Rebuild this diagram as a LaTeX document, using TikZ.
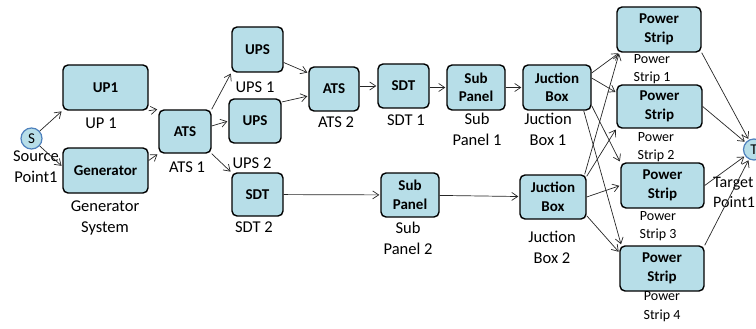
\documentclass[tikz,border=0pt]{standalone}
\usepackage{fontspec}
\setmainfont{Carlito}
\usetikzlibrary{arrows.meta}
\definecolor{boxfill}{HTML}{B7DEE8}
\definecolor{ringblue}{HTML}{4F81BD}
\begin{document}
\begin{tikzpicture}[x=1pt,y=-1pt,
  unit/.style={draw=black, line width=1.4pt, fill=boxfill, rounded corners=5pt,
    inner sep=0pt, align=center, font=\fontsize{15}{18.5}\selectfont\bfseries},
  endpt/.style={circle, draw=ringblue, line width=1.2pt, fill=boxfill,
    minimum size=21pt, inner sep=0pt, font=\fontsize{15}{18}\selectfont},
  caption/.style={align=center, inner sep=0pt, font=\fontsize{16.5}{21}\selectfont},
  smallcap/.style={align=center, inner sep=0pt, font=\fontsize{14}{18.5}\selectfont},
  link/.style={-{Straight Barb[length=6pt,width=8pt]}, line width=0.7pt,
    draw=black!85, shorten >=1pt}
]
\useasboundingbox (0,0) rectangle (756,329);

% end points
\node[endpt] (S) at (31.5,138.5) {S};
\node[endpt] (T) at (754,149.5) {T};

% equipment boxes
\node[unit, minimum width=85pt, minimum height=45pt] (up1)  at (105.5,87.5)  {UP1};
\node[unit, minimum width=85pt, minimum height=45pt] (gen)  at (105.5,170.5) {Generator};
\node[unit, minimum width=52pt, minimum height=43pt] (ats1) at (185,131.5)   {ATS};
\node[unit, minimum width=51pt, minimum height=45pt] (ups1) at (257.5,49.5)  {UPS};
\node[unit, minimum width=52pt, minimum height=44pt] (ups2) at (255,121)     {UPS};
\node[unit, minimum width=51pt, minimum height=43pt] (sdt2) at (257.5,194.5) {SDT};
\node[unit, minimum width=50pt, minimum height=44pt] (ats2) at (334,89)      {ATS};
\node[unit, minimum width=51pt, minimum height=44pt] (sdt1) at (403.5,86)    {SDT};
\node[unit, minimum width=58pt, minimum height=45pt] (sp1)  at (476,87.5)    {Sub\\Panel};
\node[unit, minimum width=58pt, minimum height=44pt] (sp2)  at (410,195)     {Sub\\Panel};
\node[unit, minimum width=68pt, minimum height=45pt] (jb1)  at (557,87.5)    {Juction\\Box};
\node[unit, minimum width=66pt, minimum height=44pt] (jb2)  at (553,197)     {Juction\\Box};
\node[unit, minimum width=84pt, minimum height=45pt] (ps1)  at (659,29.5)    {Power\\Strip};
\node[unit, minimum width=85pt, minimum height=43pt] (ps2)  at (659.5,106.5) {Power\\Strip};
\node[unit, minimum width=83pt, minimum height=45pt] (ps3)  at (662.5,185.5) {Power\\Strip};
\node[unit, minimum width=84pt, minimum height=45pt] (ps4)  at (662,268.5)   {Power\\Strip};

% captions
\node[caption] (cS)    at (36,167)     {Source\\Point1};
\node[caption] (cup1)  at (101,123)    {UP 1};
\node[caption] (cgen)  at (105,217.5)  {Generator\\System};
\node[caption] (cats1) at (187,167)    {ATS 1};
\node[caption] (cups1) at (255,87)     {UPS 1};
\node[caption] (cups2) at (252,163)    {UPS 2};
\node[caption] (cats2) at (336,122)    {ATS 2};
\node[caption] (csdt1) at (406,120)    {SDT 1};
\node[caption] (csdt2) at (254,227)    {SDT 2};
\node[caption] (csp1)  at (477,129.5)  {Sub\\Panel 1};
\node[caption] (cjb1)  at (548,129.5)  {Juction\\Box 1};
\node[caption] (csp2)  at (408,238)    {Sub\\Panel 2};
\node[caption] (cjb2)  at (552,247)    {Juction\\Box 2};
\node[smallcap] (cps1) at (652,69)     {Power\\Strip 1};
\node[smallcap] (cps2) at (656,147)    {Power\\Strip 2};
\node[smallcap] (cps3) at (658,226)    {Power\\Strip 3};
\node[smallcap] (cps4) at (662,306.5)  {Power\\Strip 4};
\node[caption, align=left, anchor=west, font=\fontsize{16}{20}\selectfont]
  (cT) at (713,192) {Target\\Point1};

% supply side
\draw[link] (S) -- (up1.south west);
\draw[link] (S) -- ([yshift=4pt]gen.west);
\draw[link] (up1.south east) -- (ats1.north west);
\draw[link] ([yshift=10pt]gen.east) -- (ats1.south west);
\draw[link] (ats1.north east) -- (ups1.south west);
\draw[link] ([yshift=5.5pt]ats1.east) -- (ups2.west);
\draw[link] (ats1.south east) -- (sdt2.north west);
\draw[link] ([yshift=-13pt]ups1.east) -- ([yshift=16pt]ats2.west);
\draw[link] ([yshift=19pt]ups2.east) -- ([yshift=-7pt]ats2.west);
\draw[link] (ats2.east |- sdt1.west) -- (sdt1.west);
\draw[link] (sdt1.east |- sp1.west) -- (sp1.west);
\draw[link] (sp1) -- (jb1);
\draw[link] (sdt2) -- (sp2);
\draw[link] (sp2) -- (jb2);

% distribution to power strips
\draw[link] ([yshift=14.5pt]jb1.east) -- ([xshift=3pt]ps1.south west);
\draw[link] ([yshift=9.5pt]jb1.east) -- ([yshift=14pt]ps2.west);
\draw[link] ([yshift=5pt]jb1.south east) -- (ps3.north west);
\draw[link] ([xshift=-8pt]jb1.south east) -- ([xshift=2pt]ps4.north west);
\draw[link] ([xshift=-2pt]jb2.north east) -- ([xshift=3pt]ps1.south west);
\draw[link] ([yshift=-2pt]jb2.north east) -- (ps2.south west);
\draw[link] (jb2.east) -- (ps3.west);
\draw[link] ([yshift=4pt]jb2.south east) -- ([yshift=16pt]ps4.west);

% power strips to target
\draw[link] (ps1.south east) -- (T);
\draw[link] (ps2.east) -- (T);
\draw[link] (ps3.east) -- (T);
\draw[link] (ps4.north east) -- (T);
\end{tikzpicture}
\end{document}
